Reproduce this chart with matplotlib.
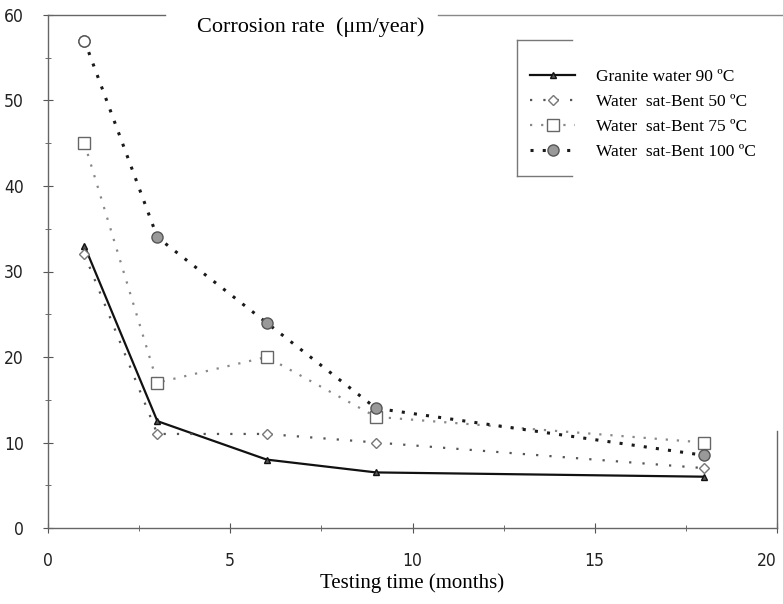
import matplotlib
matplotlib.use("Agg")
import matplotlib.pyplot as plt
from matplotlib.ticker import MultipleLocator

# data
months = [1, 3, 6, 9, 18]
granite_90 = [33, 12.5, 8, 6.5, 6]
bent_50 = [32, 11, 11, 10, 7]
bent_75 = [45, 17, 20, 13, 10]
bent_100 = [57, 34, 24, 14, 8.5]
labels = ["Granite water 90 ºC", "Water  sat-Bent 50 ºC",
          "Water  sat-Bent 75 ºC", "Water  sat-Bent 100 ºC"]
xticks = [0, 5, 10, 15, 20]
yticks = [0, 10, 20, 30, 40, 50, 60]

serif = "Liberation Serif"
tickfont = dict(family="DejaVu Sans", stretch="condensed", size=12.5, color="#222222")

fig = plt.figure(figsize=(7.83, 6.04), dpi=100)
ax = fig.add_axes([48 / 783, 1 - 528 / 604, 729 / 783, 513 / 604])

ax.plot(months, granite_90, color="#111111", lw=1.6, marker="^", ms=5,
        mfc="#555555", mec="#111111", label=labels[0])
ax.plot(months, bent_50, color="#555555", lw=1.6, ls=(0, (1, 5)), marker="D", ms=5,
        mfc="white", mec="#777777", label=labels[1])
ax.plot(months, bent_75, color="#888888", lw=1.6, ls=(0, (1, 4)), marker="s", ms=9,
        mfc="white", mec="#666666", label=labels[2])
ax.plot(months, bent_100, color="#1a1a1a", lw=2.2, ls=(0, (1, 3)), marker="o", ms=8,
        mfc="#999999", mec="#555555", label=labels[3])
# first point of the 100 ºC series is drawn hollow
ax.plot(months[:1], bent_100[:1], ls="none", marker="o", ms=8, mfc="white", mec="#555555")

ax.set_xlim(0, 20)
ax.set_ylim(0, 60)
ax.set_xticks(xticks, [str(v) for v in xticks], **tickfont)
ax.set_yticks(yticks, [str(v) for v in yticks], **tickfont)
ax.xaxis.set_minor_locator(MultipleLocator(2.5))
ax.yaxis.set_minor_locator(MultipleLocator(5))
ax.tick_params(which="both", direction="inout", color="#555555")
ax.tick_params(which="major", length=7, pad=14)
ax.tick_params(which="minor", length=4)
# last x label sits at the right edge of the figure
ax.get_xticklabels()[-1].set_ha("right")

for side in ("top", "right"):
    ax.spines[side].set_visible(False)
for side in ("left", "bottom"):
    ax.spines[side].set_color("#666666")
    ax.spines[side].set_linewidth(1.0)
# broken top frame and short right frame, like the scan
ax.plot([0, 0.16], [1, 1], transform=ax.transAxes, color="#666666", lw=1, clip_on=False)
ax.plot([0.535, 1.01], [1, 1], transform=ax.transAxes, color="#888888", lw=1, clip_on=False)
ax.plot([1, 1], [0, 0.19], transform=ax.transAxes, color="#666666", lw=1, clip_on=False)

ax.text(0.36, 0.995, "Corrosion rate  (μm/year)", transform=ax.transAxes,
        ha="center", va="top", fontsize=16, family=serif)
ax.set_xlabel("Testing time (months)", fontsize=15, family=serif, labelpad=2)

leg = ax.legend(loc="upper left", bbox_to_anchor=(0.64, 0.925), frameon=False,
                prop=dict(family=serif, size=12.5), handlelength=2.6,
                handletextpad=1.2, labelspacing=0.5)
# bracket around the legend
fx0, fx1 = 517 / 783, 572 / 783
fy0, fy1 = 1 - 176 / 604, 1 - 40 / 604
for xs, ys in (([fx0, fx1], [fy1, fy1]), ([fx0, fx0], [fy0, fy1]), ([fx0, fx1], [fy0, fy0])):
    fig.add_artist(plt.Line2D(xs, ys, transform=fig.transFigure, color="#777777", lw=1))

fig.savefig("out.png", dpi=100)
